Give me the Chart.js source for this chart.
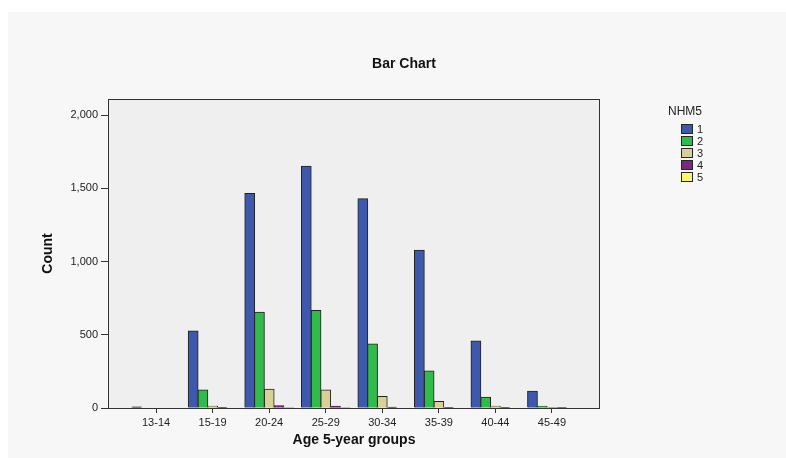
<!DOCTYPE html>
<html>
<head>
<meta charset="utf-8">
<script src="https://cdn.jsdelivr.net/npm/chart.js@4"></script>
<style>
  html, body { margin: 0; padding: 0; background: #ffffff; }
  #wrap { width: 786px; height: 458px; position: relative; }
</style>
</head>
<body>
<div id="wrap"><canvas id="grafico" width="786" height="458"></canvas></div>
<script>
// categorias do eixo X
const ageGroups = ["13-14", "15-19", "20-24", "25-29", "30-34", "35-39", "40-44", "45-49"];

// valores (NHM5 = 1..5)
const nhm1 = [7, 525, 1465, 1650, 1429, 1078, 457, 114];
const nhm2 = [0, 123, 653, 666, 437, 252, 73, 12];
const nhm3 = [0, 12, 128, 123, 78, 44, 12, 3];
const nhm4 = [0, 3, 16, 12, 5, 3, 3, 1];
const nhm5 = [0, 0, 1, 1, 0, 0, 0, 0];

const seriesNames = ["1", "2", "3", "4", "5"];
const seriesColors = ["#3e58ac", "#30bb4a", "#d7d097", "#7a2a7c", "#faf66e"];
const yTicks = [0, 500, 1000, 1500, 2000];

const FONT = "'Liberation Sans', Arial, sans-serif";

const allSeries = [nhm1, nhm2, nhm3, nhm4, nhm5];
const datasets = allSeries.map((vals, k) => ({
    label: seriesNames[k],
    data: vals.map((v, i) => ({ x: i, y: v })),
    backgroundColor: seriesColors[k],
    borderColor: "#222222",
    borderWidth: 1,
    inflateAmount: 0.5,
    categoryPercentage: 0.86,
    barPercentage: 1.0
}));

// fundo, moldura, título e legenda
const decoracao = {
    id: "decoracao",
    beforeDraw(chart) {
        const ctx = chart.ctx;
        const a = chart.chartArea;
        ctx.save();
        ctx.fillStyle = "#ffffff";
        ctx.fillRect(0, 0, chart.width, chart.height);
        ctx.fillStyle = "#f7f7f7";
        ctx.fillRect(8, 12, chart.width - 8, chart.height - 12);
        ctx.fillStyle = "#efefef";
        ctx.fillRect(a.left, a.top, a.right - a.left, a.bottom - a.top);
        ctx.restore();
    },
    afterDatasetsDraw(chart) {
        const ctx = chart.ctx;
        const a = chart.chartArea;
        ctx.save();
        ctx.strokeStyle = "#333333";
        ctx.lineWidth = 1;
        ctx.strokeRect(a.left + 0.5, a.top + 0.5, a.right - a.left - 1, a.bottom - a.top);
        ctx.restore();
    },
    afterDraw(chart) {
        const ctx = chart.ctx;
        ctx.save();
        // título
        ctx.fillStyle = "#111111";
        ctx.font = "bold 14px " + FONT;
        ctx.textAlign = "center";
        ctx.textBaseline = "middle";
        ctx.fillText("Bar Chart", 404, 64);

        // legenda
        ctx.textAlign = "left";
        ctx.font = "12px " + FONT;
        ctx.fillStyle = "#222222";
        ctx.fillText("NHM5", 668, 112);
        ctx.font = "11px " + FONT;
        chart.data.datasets.forEach((ds, k) => {
            const y = 129 + k * 12;
            ctx.fillStyle = ds.backgroundColor;
            ctx.fillRect(681, y - 5, 12, 10);
            ctx.strokeStyle = "#262626";
            ctx.strokeRect(681.5, y - 4.5, 11, 9);
            ctx.fillStyle = "#222222";
            ctx.fillText(ds.label, 697, y + 1);
        });
        ctx.restore();
    }
};

new Chart(document.getElementById("grafico"), {
    type: "bar",
    data: { datasets: datasets },
    options: {
        responsive: false,
        animation: false,
        layout: { padding: { top: 99, right: 186, left: 0, bottom: 0 } },
        plugins: {
            legend: { display: false },
            title: { display: false },
            tooltip: { enabled: false }
        },
        scales: {
            x: {
                type: "linear",
                offset: false,
                min: -0.85,
                max: 7.85,
                afterBuildTicks: s => {
                    s.ticks = ageGroups.map((g, i) => ({ value: i }));
                },
                afterFit: s => { s.height = 50; },
                ticks: {
                    stepSize: 1,
                    includeBounds: false,
                    autoSkip: false,
                    maxRotation: 0,
                    padding: 3,
                    color: "#222222",
                    font: { family: FONT, size: 11 },
                    callback: v => ageGroups[v] ?? ""
                },
                grid: { offset: false, drawOnChartArea: false, drawTicks: true, tickLength: 5, color: "#333333" },
                border: { display: false },
                title: {
                    display: true,
                    text: "Age 5-year groups",
                    color: "#111111",
                    font: { family: FONT, size: 14, weight: "bold" },
                    padding: { top: 0, bottom: 9 }
                }
            },
            y: {
                min: 0,
                max: 2110,
                afterBuildTicks: s => {
                    s.ticks = yTicks.map(v => ({ value: v }));
                },
                afterFit: s => { s.width = 108; },
                ticks: {
                    stepSize: 500,
                    includeBounds: false,
                    padding: 3,
                    color: "#222222",
                    font: { family: FONT, size: 11 },
                    callback: v => v.toLocaleString("en-US")
                },
                grid: { drawOnChartArea: false, drawTicks: true, tickLength: 7, color: "#333333" },
                border: { display: false },
                title: {
                    display: true,
                    text: "Count",
                    color: "#111111",
                    font: { family: FONT, size: 14, weight: "bold" },
                    padding: { top: 40, bottom: 0 }
                }
            }
        }
    },
    plugins: [decoracao]
});
</script>
</body>
</html>
